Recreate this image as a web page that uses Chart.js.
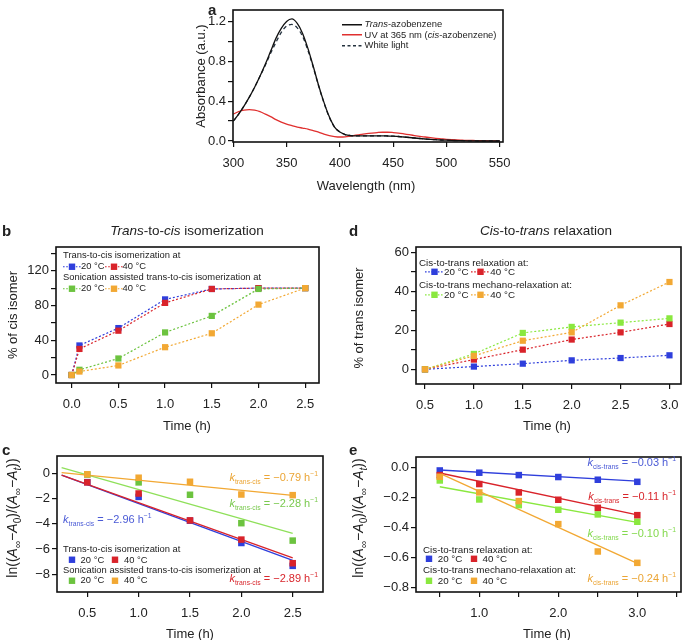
<!DOCTYPE html>
<html lang="en">
<head>
<meta charset="UTF-8" />
<title>Azobenzene isomerization</title>
<script src="https://cdn.jsdelivr.net/npm/chart.js"></script>
<style>
  body { margin: 0; background: #fff; font-family: "Liberation Sans", Arial, Helvetica, sans-serif; color: #222; }
  #fig { position: relative; width: 685px; height: 640px; overflow: hidden; background: #fff; }
  canvas { position: absolute; }
  .t { position: absolute; white-space: nowrap; line-height: 1; }
  .t sub, .t sup { line-height: 0; font-size: 0.62em; }
  .lbl { font-weight: bold; font-size: 15px; }
  .ttl { font-size: 13.5px; }
  .axt { font-size: 13px; }
  .ln { font-size: 14px; }
  .ln sub { font-size: 0.72em; }
  .leg { font-size: 9.4px; }
  .leg2 { font-size: 9.8px; }
  .leg svg, .leg2 svg { vertical-align: middle; }
  .k { font-size: 11px; }
</style>
</head>
<body>
<div id="fig"></div>
<script>
  // ---- data ----
  // panel a: absorbance spectra
  var wavelength = [300,305,310,315,320,325,330,335,340,345,350,355,360,365,370,375,380,385,390,395,
    400,405,410,415,420,425,430,435,440,445,450,455,460,465,470,475,480,485,490,495,
    500,505,510,515,520,525,530,535,540,545,550];
  var absTrans = [0.20,0.27,0.35,0.44,0.54,0.65,0.77,0.90,1.03,1.13,1.20,1.225,1.18,1.08,0.93,0.75,0.56,0.39,0.245,0.14,
    0.09,0.065,0.055,0.052,0.052,0.052,0.052,0.052,0.052,0.05,0.048,0.045,0.04,0.035,0.03,0.025,0.02,0.016,0.013,0.01,
    0.008,0.006,0.004,0.003,0.002,0.001,0,0,0,0,0];
  var absUV = [0.27,0.295,0.31,0.315,0.31,0.295,0.27,0.245,0.215,0.19,0.17,0.155,0.14,0.13,0.12,0.105,0.09,0.07,0.055,0.045,
    0.04,0.042,0.05,0.058,0.066,0.074,0.08,0.085,0.088,0.088,0.085,0.08,0.072,0.063,0.055,0.047,0.04,0.033,0.027,0.022,
    0.017,0.013,0.01,0.008,0.006,0.005,0.004,0.003,0.002,0.001,0];
  var absWhite = [0.20,0.27,0.35,0.44,0.54,0.65,0.76,0.88,0.99,1.09,1.155,1.17,1.135,1.05,0.91,0.74,0.555,0.385,0.24,0.14,
    0.09,0.065,0.055,0.052,0.052,0.052,0.052,0.052,0.052,0.05,0.048,0.045,0.04,0.035,0.03,0.025,0.02,0.016,0.013,0.01,
    0.008,0.006,0.004,0.003,0.002,0.001,0,0,0,0,0];
  var aXTicks = [300,350,400,450,500,550];
  var aXLabels = ['300','350','400','450','500','550'];
  var aYTicks = [0,0.2,0.4,0.6,0.8,1.0,1.2];
  var aYLabels = ['0.0','','0.4','','0.8','','1.2'];

  // panel b: % cis isomer
  var bTime = [0,0.083,0.5,1.0,1.5,2.0,2.5];
  var bBlue20 = [0,34,54,87,99,100,100];
  var bRed40 = [0,30,51,83,99,100,100];
  var bGreenSon20 = [0,6,19,49,68,99,100];
  var bOrangeSon40 = [0,4,11,32,48,81,100];
  var bXTicks = [0,0.5,1,1.5,2,2.5];
  var bXLabels = ['0.0','0.5','1.0','1.5','2.0','2.5'];
  var bYTicks = [0,20,40,60,80,100,120,140];
  var bYLabels = ['0','','40','','80','','120',''];

  // panel c: ln plot, trans-to-cis
  var cTime = [0.5,1.0,1.5,2.0,2.5];
  var cBlue20 = [-0.7,-1.87,-3.75,-5.52,-7.33];
  var cRed40 = [-0.72,-1.6,-3.73,-5.25,-7.12];
  var cGreenSon20 = [-0.1,-0.72,-1.7,-3.95,-5.33];
  var cOrangeSon40 = [-0.08,-0.35,-0.67,-1.68,-1.73];
  var cFitTime = [0.25,2.5];
  var cFitBlue = [-0.15,-6.9];
  var cFitRed = [-0.15,-6.7];
  var cFitGreen = [0.45,-4.75];
  var cFitOrange = [0.05,-1.75];
  var cXTicks = [0.5,1,1.5,2,2.5];
  var cXLabels = ['0.5','1.0','1.5','2.0','2.5'];
  var cYTicks = [0,-2,-4,-6,-8];
  var cYLabels = ['0','\u22122','\u22124','\u22126','\u22128'];

  // panel d: % trans isomer
  var dTime = [0.5,1.0,1.5,2.0,2.5,3.0];
  var dBlue20 = [0,1.4,2.9,4.6,5.8,7.2];
  var dRed40 = [0,5,10.1,15.3,19,23.3];
  var dGreenMech20 = [0,7.9,18.7,21.8,24,26.2];
  var dOrangeMech40 = [0,6.9,14.7,19,32.9,44.9];
  var dXTicks = [0.5,1,1.5,2,2.5,3];
  var dXLabels = ['0.5','1.0','1.5','2.0','2.5','3.0'];
  var dYTicks = [0,10,20,30,40,50,60];
  var dYLabels = ['0','','20','','40','','60'];

  // panel e: ln plot, cis-to-trans
  var eTime = [0.5,1.0,1.5,2.0,2.5,3.0];
  var eBlue20 = [-0.018,-0.033,-0.049,-0.062,-0.08,-0.094];
  var eRed40 = [-0.049,-0.109,-0.165,-0.214,-0.268,-0.317];
  var eGreenMech20 = [-0.085,-0.212,-0.25,-0.281,-0.312,-0.361];
  var eOrangeMech40 = [-0.06,-0.165,-0.223,-0.377,-0.56,-0.636];
  var eFitTime = [0.5,3.0];
  var eFitBlue = [-0.015,-0.09];
  var eFitRed = [-0.035,-0.315];
  var eFitGreen = [-0.127,-0.365];
  var eFitOrange = [-0.037,-0.64];
  var eXTicks = [0.5,1,1.5,2,2.5,3,3.5];
  var eXLabels = ['','1.0','','2.0','','3.0',''];
  var eYTicks = [0,-0.2,-0.4,-0.6,-0.8];
  var eYLabels = ['0.0','\u22120.2','\u22120.4','\u22120.6','\u22120.8'];

  // ---- style ----
  var FONT = '"Liberation Sans", Arial, Helvetica, sans-serif';
  var BLUE = '#2f3fdc', RED = '#d9232a', GREEN = '#6cc33f', LIME = '#8ae83f', ORANGE = '#f2a833';

  var fig = document.getElementById('fig');

  function pts(xs, ys) {
    return xs.map(function (x, i) { return { x: x, y: ys[i] }; });
  }

  // box around plot area
  var frame = {
    id: 'frame',
    afterDraw: function (chart) {
      var a = chart.chartArea, c = chart.ctx;
      c.save();
      c.strokeStyle = '#111';
      c.lineWidth = 1.6;
      c.strokeRect(a.left, a.top, a.right - a.left, a.bottom - a.top);
      c.restore();
    }
  };

  function axis(min, max, tickVals, tickLabels, horizontal) {
    return {
      type: 'linear', min: min, max: max, bounds: 'data',
      afterBuildTicks: function (s) { s.ticks = tickVals.map(function (v) { return { value: v }; }); },
      afterFit: function (s) { if (horizontal) s.height = 30; else s.width = 40; },
      grid: { drawOnChartArea: false, drawTicks: true, tickLength: 5, color: '#111', lineWidth: 1.2 },
      border: { display: false },
      ticks: {
        autoSkip: false, maxRotation: 0, padding: horizontal ? 9 : 2, color: '#222',
        font: { family: FONT, size: 13 },
        callback: function (v, i) { return tickLabels[i]; }
      }
    };
  }

  function panel(box, xScale, yScale, datasets) {
    var P = 20, WY = 40, HX = 30;
    var w = box.r - box.l + WY + 2 * P, h = box.b - box.t + HX + 2 * P;
    var cv = document.createElement('canvas');
    cv.width = w; cv.height = h;
    cv.style.left = (box.l - WY - P) + 'px';
    cv.style.top = (box.t - P) + 'px';
    cv.style.width = w + 'px'; cv.style.height = h + 'px';
    fig.appendChild(cv);
    new Chart(cv, {
      type: 'scatter',
      data: { datasets: datasets },
      options: {
        responsive: false, animation: false, devicePixelRatio: 1,
        layout: { padding: P },
        events: [],
        plugins: { legend: { display: false }, tooltip: { enabled: false } },
        scales: { x: xScale, y: yScale }
      },
      plugins: [frame]
    });
  }

  function curve(xs, ys, color, dash, order) {
    return { data: pts(xs, ys), showLine: true, borderColor: color, borderWidth: 1.3,
      borderDash: dash || [], pointRadius: 0, cubicInterpolationMode: 'monotone', order: order };
  }
  function dotted(xs, ys, color, order) {
    return { data: pts(xs, ys), showLine: true, borderColor: color, backgroundColor: color,
      borderWidth: 1.2, borderDash: [2, 2], pointStyle: 'rect', pointRadius: 4.4,
      pointBorderWidth: 0, order: order };
  }
  function squares(xs, ys, color, order) {
    return { data: pts(xs, ys), showLine: false, backgroundColor: color, borderColor: color,
      pointStyle: 'rect', pointRadius: 4.6, pointBorderWidth: 0, order: order };
  }
  function fit(xs, ys, color, order) {
    return { data: pts(xs, ys), showLine: true, borderColor: color, borderWidth: 1.3,
      pointRadius: 0, order: order };
  }

  // a
  panel({ l: 233, t: 10, r: 503, b: 142 },
    axis(299.7, 553.1, aXTicks, aXLabels, true),
    axis(-0.01, 1.315, aYTicks, aYLabels, false),
    [
      curve(wavelength, absTrans, '#111', null, 1),
      curve(wavelength, absWhite, '#24323f', [4, 3], 2),
      curve(wavelength, absUV, '#e0302f', null, 3)
    ]);

  // b
  panel({ l: 56, t: 247, r: 319, b: 383 },
    axis(-0.168, 2.648, bXTicks, bXLabels, true),
    axis(-9.2, 147.3, bYTicks, bYLabels, false),
    [
      dotted(bTime, bOrangeSon40, ORANGE, 1),
      dotted(bTime, bGreenSon20, GREEN, 2),
      dotted(bTime, bRed40, RED, 3),
      dotted(bTime, bBlue20, BLUE, 4)
    ]);

  // c
  panel({ l: 57, t: 456, r: 323, b: 592 },
    axis(0.205, 2.795, cXTicks, cXLabels, true),
    axis(-9.4, 1.37, cYTicks, cYLabels, false),
    [
      squares(cTime, cOrangeSon40, ORANGE, 1),
      squares(cTime, cGreenSon20, GREEN, 2),
      squares(cTime, cRed40, RED, 3),
      squares(cTime, cBlue20, BLUE, 4),
      fit(cFitTime, cFitOrange, ORANGE, 5),
      fit(cFitTime, cFitGreen, '#8fe05a', 6),
      fit(cFitTime, cFitRed, RED, 7),
      fit(cFitTime, cFitBlue, BLUE, 8)
    ]);

  // d
  panel({ l: 416, t: 247, r: 681, b: 384 },
    axis(0.408, 3.118, dXTicks, dXLabels, true),
    axis(-7.56, 62.9, dYTicks, dYLabels, false),
    [
      dotted(dTime, dOrangeMech40, ORANGE, 1),
      dotted(dTime, dGreenMech20, LIME, 2),
      dotted(dTime, dRed40, RED, 3),
      dotted(dTime, dBlue20, BLUE, 4)
    ]);

  // e
  panel({ l: 416, t: 457, r: 681, b: 592 },
    axis(0.199, 3.553, eXTicks, eXLabels, true),
    axis(-0.831, 0.072, eYTicks, eYLabels, false),
    [
      squares(eTime, eOrangeMech40, ORANGE, 1),
      squares(eTime, eRed40, RED, 2),
      squares(eTime, eGreenMech20, LIME, 3),
      squares(eTime, eBlue20, BLUE, 4),
      fit(eFitTime, eFitOrange, ORANGE, 5),
      fit(eFitTime, eFitGreen, LIME, 6),
      fit(eFitTime, eFitRed, RED, 7),
      fit(eFitTime, eFitBlue, BLUE, 8)
    ]);

  // ---- text ----
  function put(html, x, y, cls, align, color, rot) {
    var d = document.createElement('div');
    d.className = 't ' + (cls || '');
    d.innerHTML = html;
    d.style.left = x + 'px';
    d.style.top = y + 'px';
    var ax = align === 'c' ? '-50%' : align === 'r' ? '-100%' : '0';
    d.style.transform = 'translate(' + ax + ',-50%)' + (rot ? ' rotate(-90deg)' : '');
    if (color) d.style.color = color;
    fig.appendChild(d);
  }
  function marker(color, withLine, w) {
    var line = withLine ? '<line x1="0" y1="5" x2="' + w + '" y2="5" stroke="' + color +
      '" stroke-width="1.2" stroke-dasharray="1.6 1.6"/>' : '';
    var c = w / 2;
    return '<svg width="' + w + '" height="10">' + line + '<rect x="' + (c - 3.2) +
      '" y="1.8" width="6.4" height="6.4" fill="' + color + '"/></svg>';
  }
  function lineKey(color, dash) {
    return '<svg width="20" height="10"><line x1="0" y1="5" x2="20" y2="5" stroke="' + color +
      '" stroke-width="1.3"' + (dash ? ' stroke-dasharray="' + dash + '"' : '') + '/></svg>';
  }
  function kText(sub, val) {
    return '<i>k</i><sub>' + sub + '</sub> = ' + val + ' h<sup>\u22121</sup>';
  }
  var lnLabel = 'ln((<i>A</i><sub>\u221e</sub>\u2212<i>A</i><sub>0</sub>)/(<i>A</i><sub>\u221e</sub>\u2212<i>A<sub>t</sub></i>))';

  // panel letters and titles
  put('a', 208, 9, 'lbl');
  put('b', 2, 230, 'lbl');
  put('c', 2, 449, 'lbl');
  put('d', 349, 230, 'lbl');
  put('e', 349, 449, 'lbl');
  put('<i>Trans</i>-to-<i>cis</i> isomerization', 187, 231, 'ttl', 'c');
  put('<i>Cis</i>-to-<i>trans</i> relaxation', 546, 231, 'ttl', 'c');

  // axis titles
  put('Absorbance (a.u.)', 200, 76, 'axt', 'c', null, true);
  put('Wavelength (nm)', 366, 185, 'axt', 'c');
  put('% of cis isomer', 12, 315, 'axt', 'c', null, true);
  put('Time (h)', 187, 425, 'axt', 'c');
  put(lnLabel, 12, 518, 'ln', 'c', null, true);
  put('Time (h)', 190, 633, 'axt', 'c');
  put('% of trans isomer', 358, 318, 'axt', 'c', null, true);
  put('Time (h)', 547, 425, 'axt', 'c');
  put(lnLabel, 358, 518, 'ln', 'c', null, true);
  put('Time (h)', 547, 633, 'axt', 'c');

  // legend a
  put(lineKey('#111') + ' <i>Trans</i>-azobenzene', 342, 24, 'leg');
  put(lineKey('#e0302f') + ' UV at 365 nm (<i>cis</i>-azobenzene)', 342, 34.5, 'leg');
  put(lineKey('#24323f', '3 2.5') + ' White light', 342, 45, 'leg');

  // legend b
  put('Trans-to-cis isomerization at', 63, 255, 'leg');
  put(marker(BLUE, true, 18) + '20 \u00b0C' + marker(RED, true, 18) + '40 \u00b0C', 63, 266, 'leg');
  put('Sonication assisted trans-to-cis isomerization at', 63, 277, 'leg');
  put(marker(GREEN, true, 18) + '20 \u00b0C' + marker(ORANGE, true, 18) + '40 \u00b0C', 63, 288, 'leg');

  // legend c
  put('Trans-to-cis isomerization at', 63, 549, 'leg');
  put(marker(BLUE, false, 12) + ' 20 \u00b0C &nbsp;' + marker(RED, false, 12) + ' 40 \u00b0C', 66, 559.5, 'leg');
  put('Sonication assisted trans-to-cis isomerization at', 63, 569.5, 'leg');
  put(marker(GREEN, false, 12) + ' 20 \u00b0C &nbsp;' + marker(ORANGE, false, 12) + ' 40 \u00b0C', 66, 580, 'leg');

  // legend d
  put('Cis-to-trans relaxation at:', 419, 262.5, 'leg2');
  put(marker(BLUE, true, 19) + '20 \u00b0C ' + marker(RED, true, 19) + '40 \u00b0C', 425, 271.5, 'leg2');
  put('Cis-to-trans mechano-relaxation at:', 419, 284.5, 'leg2');
  put(marker(LIME, true, 19) + '20 \u00b0C ' + marker(ORANGE, true, 19) + '40 \u00b0C', 425, 295, 'leg2');

  // legend e
  put('Cis-to-trans relaxation at:', 423, 550, 'leg2');
  put(marker(BLUE, false, 12) + ' 20 \u00b0C &nbsp;' + marker(RED, false, 12) + ' 40 \u00b0C', 423, 559, 'leg2');
  put('Cis-to-trans mechano-relaxation at:', 423, 570, 'leg2');
  put(marker(LIME, false, 12) + ' 20 \u00b0C &nbsp;' + marker(ORANGE, false, 12) + ' 40 \u00b0C', 423, 580.5, 'leg2');

  // rate constants
  put(kText('trans-cis', '\u22120.79'), 318, 477, 'k', 'r', '#eba535');
  put(kText('trans-cis', '\u22122.28'), 318, 503, 'k', 'r', '#79c94e');
  put(kText('trans-cis', '\u22122.96'), 63, 519, 'k', 'l', '#4a5ad6');
  put(kText('trans-cis', '\u22122.89'), 318, 578, 'k', 'r', '#d8262c');
  put(kText('cis-trans', '\u22120.03'), 676, 462, 'k', 'r', '#4a5ad6');
  put(kText('cis-trans', '\u22120.11'), 676, 495.5, 'k', 'r', '#d8262c');
  put(kText('cis-trans', '\u22120.10'), 676, 533, 'k', 'r', '#84d94e');
  put(kText('cis-trans', '\u22120.24'), 676, 578, 'k', 'r', '#eba535');
</script>
</body>
</html>
